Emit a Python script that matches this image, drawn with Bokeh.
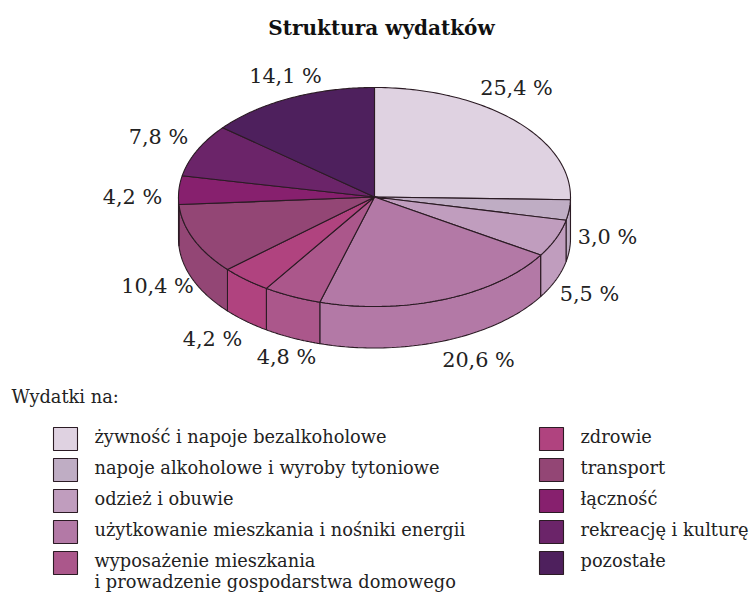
import numpy as np
from bokeh.plotting import figure
from bokeh.models import Range1d
from bokeh.core.properties import value
from bokeh.embed import file_html
from bokeh.resources import INLINE

TITLE = "Struktura wydatków"
LEGEND_TITLE = "Wydatki na:"
categories = ["żywność i napoje bezalkoholowe", "napoje alkoholowe i wyroby tytoniowe", "odzież i obuwie",
              "użytkowanie mieszkania i nośniki energii",
              "wyposażenie mieszkania\ni prowadzenie gospodarstwa domowego",
              "zdrowie", "transport", "łączność", "rekreację i kulturę", "pozostałe"]
values = [25.4, 3.0, 5.5, 20.6, 4.8, 4.2, 10.4, 4.2, 7.8, 14.1]
colors = ["#DFD2E1", "#BFADC4", "#C09DBE", "#B379A6", "#AB578B", "#B0437F", "#934675", "#87206E", "#6B2469", "#4E205D"]
EDGE = "#2B1B24"
FONT = value("DejaVu Serif")

# layout, in pixels of the page
CX, CY, RX, RY, DEPTH = 374, 196.5, 196, 109.5, 41.5
label_x = [516, 607, 589, 478, 286, 212, 157, 132, 158, 285]
label_y = [87, 236, 293, 359, 356, 338, 285, 196, 136, 75]

W, H = 752, 593
p = figure(width=W, height=H, x_range=Range1d(0, W), y_range=Range1d(H, 0),
           toolbar_location=None, output_backend="svg", min_border=0, outline_line_color=None,
           x_axis_location=None, y_axis_location=None, background_fill_color="white")
p.grid.visible = False

edges = np.cumsum([0] + values) / 100 * 2 * np.pi
edges[-1] = 2 * np.pi

def ex(t): return CX + RX * np.sin(t)
def ey(t): return CY - RY * np.cos(t)

# side wall (front half only)
for a, b, c in zip(edges[:-1], edges[1:], colors):
    lo, hi = max(a, np.pi / 2), min(b, 3 * np.pi / 2)
    if hi <= lo:
        continue
    t = np.linspace(lo, hi, 60)
    xs = np.r_[ex(t), ex(t[::-1])]
    ys = np.r_[ey(t), ey(t[::-1]) + DEPTH]
    p.patch(xs, ys, fill_color=c, line_color=EDGE, line_width=1.1)

# top face
for a, b, c in zip(edges[:-1], edges[1:], colors):
    t = np.linspace(a, b, 90)
    p.patch(np.r_[CX, ex(t)], np.r_[CY, ey(t)], fill_color=c, line_color=EDGE, line_width=1.1)

p.text(label_x, label_y, text=[f"{v:.1f} %".replace(".", ",") for v in values],
       text_font=FONT, text_font_size="20.8px", text_color="#222222", text_align="center", text_baseline="middle")

p.text([381], [27], text=[TITLE], text_font=FONT, text_font_style="bold", text_font_size="20px",
       text_color="#111111", text_align="center", text_baseline="middle")
p.text([11], [396], text=[LEGEND_TITLE], text_font=FONT, text_font_size="17.8px", text_color="#222222",
       text_baseline="middle")

# legend
col_x = [53] * 5 + [539] * 5
row_y = [427, 458, 489, 520, 551] * 2
sx = np.array(col_x); sy = np.array(row_y)
p.quad(left=sx, right=sx + 24, top=sy, bottom=sy + 23, fill_color=colors, line_color=EDGE, line_width=1.1)
for x, y, label in zip(col_x, row_y, categories):
    for i, line in enumerate(label.split("\n")):
        p.text([x + 41], [y + 9 + i * 21], text=[line], text_font=FONT, text_font_size="17.8px",
               text_color="#222222", text_baseline="middle")

open("out.html", "w").write(file_html(p, INLINE))
